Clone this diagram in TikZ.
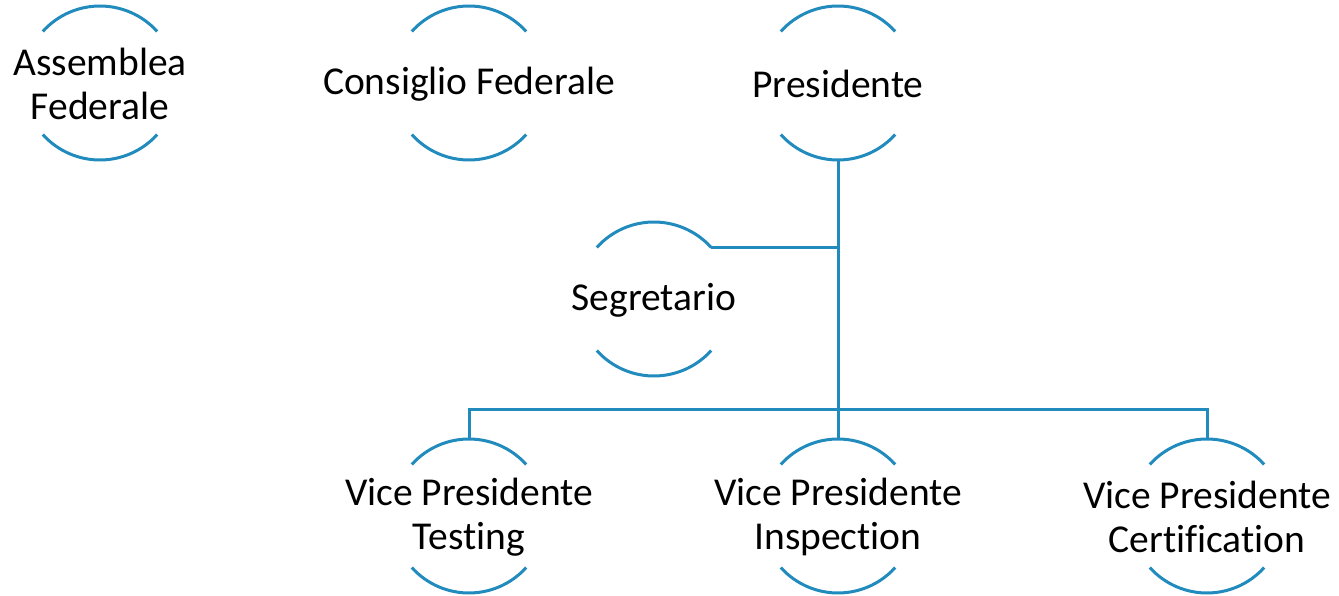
\documentclass[tikz,border=0pt]{standalone}
\usepackage{fontspec}
\setmainfont{Carlito}[Ligatures=NoCommon]
\definecolor{arcblue}{RGB}{33,139,190}
\begin{document}
\begin{tikzpicture}[x=1pt,y=1pt,
  unit/.style={inner sep=0pt, align=center,
    font=\fontsize{39.5}{44}\selectfont, text=black},
  link/.style={draw=arcblue, line width=3pt}]
\useasboundingbox (0,0) rectangle (1339,-596);
\node[unit] (asm) at (100,-84) {Assemblea\\Federale};
\node[unit] (cons) at (469,-84) {Consiglio Federale};
\node[unit] (pres) at (838,-84) {Presidente};
\node[unit] (seg) at (654,-300) {Segretario};
\node[unit] (test) at (469,-517) {Vice Presidente\\Testing};
\node[unit] (insp) at (838,-517) {Vice Presidente\\Inspection};
\node[unit] (cert) at (1207,-517) {Vice Presidente\\Certification};
\foreach \n in {asm,cons,pres,seg,test,insp,cert}{
  \coordinate (\n-c) at ([yshift=1pt]\n.center);
  \coordinate (\n-top) at ([yshift=77pt]\n-c);
  \coordinate (\n-bot) at ([yshift=-77pt]\n-c);
  \coordinate (\n-ne) at ([shift={(42:77pt)}]\n-c);
  \draw[link] (\n-ne) arc[start angle=42, end angle=138, radius=77pt];
  \draw[link] ([shift={(-42:77pt)}]\n-c) arc[start angle=-42, end angle=-138, radius=77pt];
}
\draw[link] (pres-bot) -- (insp-top);
\draw[link] (test-top) -- ++(0,30) -| (cert-top);
\draw[link] (seg-ne) -- (seg-ne -| pres-bot);
\end{tikzpicture}
\end{document}
